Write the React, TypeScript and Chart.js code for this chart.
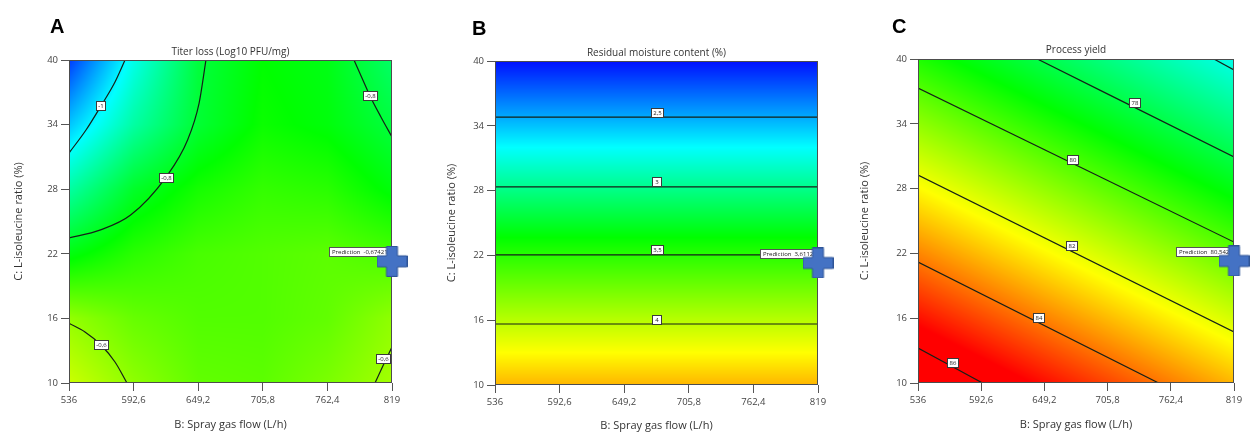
import React, { useEffect, useRef } from 'react';
import { Chart, registerables } from 'chart.js';

Chart.register(...registerables);

const FONT = "'Open Sans', 'Noto Sans', sans-serif";

// ---------- shared axes ----------
const X_TICKS = [536, 592.6, 649.2, 705.8, 762.4, 819];
const Y_TICKS = [10, 16, 22, 28, 34, 40];
const X_TITLE = 'B: Spray gas flow (L/h)';
const Y_TITLE = 'C: L-isoleucine ratio (%)';

// ---------- Panel A: titer loss ----------
const A_TITLE = 'Titer loss (Log10 PFU/mg)';
// response at grid nodes: rows follow Y_TICKS (10 → 40), columns follow X_TICKS
const A_GRID = [
  [-0.55, -0.61, -0.655, -0.66, -0.63, -0.59],
  [-0.605, -0.65, -0.67, -0.67, -0.655, -0.61],
  [-0.765, -0.71, -0.68, -0.67, -0.66, -0.68],
  [-0.91, -0.79, -0.73, -0.7, -0.71, -0.76],
  [-1.06, -0.91, -0.8, -0.74, -0.76, -0.81],
  [-1.2, -0.98, -0.81, -0.75, -0.77, -0.85],
];
// response values at blue, cyan, green, yellow, red
const A_LEVELS = [-1.26, -1.0, -0.75, -0.5, -0.25];
const A_CONTOUR_M1 = [
  { x: 536, y: 31.36 }, { x: 550.9, y: 33.5 }, { x: 564.0, y: 35.73 }, { x: 576.3, y: 37.96 }, { x: 585.1, y: 40 },
];
const A_CONTOUR_M08_LEFT = [
  { x: 536, y: 23.47 }, { x: 563, y: 24.2 }, { x: 590, y: 25.6 }, { x: 621, y: 29.13 }, { x: 640, y: 32.6 }, { x: 650, y: 36.0 }, { x: 656, y: 40 },
];
const A_CONTOUR_M08_RIGHT = [
  { x: 785.7, y: 40 }, { x: 792.7, y: 38.33 }, { x: 799.7, y: 36.66 }, { x: 809.3, y: 34.71 }, { x: 819, y: 32.85 },
];
const A_CONTOUR_M06_LEFT = [
  { x: 536, y: 15.54 }, { x: 550, y: 14.74 }, { x: 564, y: 13.53 }, { x: 576.3, y: 11.95 }, { x: 586.8, y: 10 },
];
const A_CONTOUR_M06_RIGHT = [
  { x: 804.1, y: 10 }, { x: 811.1, y: 11.6 }, { x: 819, y: 13.34 },
];
const A_LABELS = [
  { x: 564.0, y: 35.73, text: '-1' },
  { x: 621.0, y: 29.13, text: '-0,8' },
  { x: 799.7, y: 36.66, text: '-0,8' },
  { x: 564.0, y: 13.53, text: '-0,6' },
  { x: 811.1, y: 12.27, text: '-0,6' },
];
const A_PREDICTION = { x: 819, y: 21.3 };
const A_PRED_TEXT = 'Prediction  -0,674217';

// ---------- Panel B: residual moisture ----------
const B_TITLE = 'Residual moisture content (%)';
const B_GRID = [
  [4.43, 4.43, 4.43, 4.43, 4.43, 4.43],
  [3.97, 3.97, 3.97, 3.97, 3.97, 3.97],
  [3.51, 3.51, 3.51, 3.51, 3.51, 3.51],
  [3.04, 3.04, 3.04, 3.04, 3.04, 3.04],
  [2.56, 2.56, 2.56, 2.56, 2.56, 2.56],
  [2.09, 2.09, 2.09, 2.09, 2.09, 2.09],
];
const B_LEVELS = [2.05, 2.72, 3.38, 4.2, 5.0];
const B_CONTOUR_25 = [{ x: 536, y: 34.8 }, { x: 819, y: 34.8 }];
const B_CONTOUR_3 = [{ x: 536, y: 28.35 }, { x: 819, y: 28.35 }];
const B_CONTOUR_35 = [{ x: 536, y: 22.05 }, { x: 819, y: 22.05 }];
const B_CONTOUR_4 = [{ x: 536, y: 15.65 }, { x: 819, y: 15.65 }];
const B_LABELS = [
  { x: 677.7, y: 35.2, text: '2,5' },
  { x: 677.7, y: 28.8, text: '3' },
  { x: 677.7, y: 22.5, text: '3,5' },
  { x: 677.7, y: 16.1, text: '4' },
];
const B_PREDICTION = { x: 819, y: 21.3 };
const B_PRED_TEXT = 'Prediction  3,61126';

// ---------- Panel C: process yield ----------
const C_TITLE = 'Process yield';
const C_GRID = [
  [86.8, 86.08, 85.36, 84.65, 83.93, 83.21],
  [85.32, 84.6, 83.88, 83.16, 82.45, 81.73],
  [83.83, 83.11, 82.39, 81.68, 80.96, 80.24],
  [82.35, 81.63, 80.91, 80.19, 79.47, 78.76],
  [80.86, 80.14, 79.42, 78.71, 77.99, 77.27],
  [79.38, 78.66, 77.94, 77.22, 76.5, 75.79],
];
const C_LEVELS = [72.5, 75.5, 79.0, 82.3, 85.5];
const C_CONTOUR_76 = [{ x: 801, y: 40 }, { x: 819, y: 38.98 }];
const C_CONTOUR_78 = [{ x: 642.9, y: 40 }, { x: 819, y: 30.93 }];
const C_CONTOUR_80 = [{ x: 536, y: 37.31 }, { x: 819, y: 23.05 }];
const C_CONTOUR_82 = [{ x: 536, y: 29.26 }, { x: 819, y: 14.72 }];
const C_CONTOUR_84 = [{ x: 536, y: 21.2 }, { x: 751.5, y: 10 }];
const C_CONTOUR_86 = [{ x: 536, y: 13.24 }, { x: 593.8, y: 10 }];
const C_LABELS = [
  { x: 729.6, y: 35.93, text: '78' },
  { x: 674.4, y: 30.65, text: '80' },
  { x: 673.6, y: 22.69, text: '82' },
  { x: 643.8, y: 16.11, text: '84' },
  { x: 566.7, y: 11.94, text: '86' },
];
const C_PREDICTION = { x: 819, y: 21.3 };
const C_PRED_TEXT = 'Prediction  80,5425';

// ---------- panel layout (styling only) ----------
const PANELS = [
  {
    letter: 'A', title: A_TITLE, grid: A_GRID, levels: A_LEVELS,
    contours: [A_CONTOUR_M1, A_CONTOUR_M08_LEFT, A_CONTOUR_M08_RIGHT, A_CONTOUR_M06_LEFT, A_CONTOUR_M06_RIGHT],
    labels: A_LABELS, prediction: A_PREDICTION, predText: A_PRED_TEXT,
    left: 0, width: 420,
    L: { yAxisW: 69, padRight: 28, padTop: 60, xAxisH: 49, yTitleX: 19, xTitlePad: 0.5, letterDx: -19, letterDy: -27, titleDy: -8 },
  },
  {
    letter: 'B', title: B_TITLE, grid: B_GRID, levels: B_LEVELS,
    contours: [B_CONTOUR_25, B_CONTOUR_3, B_CONTOUR_35, B_CONTOUR_4],
    labels: B_LABELS, prediction: B_PREDICTION, predText: B_PRED_TEXT,
    left: 420, width: 420,
    L: { yAxisW: 75, padRight: 22, padTop: 61, xAxisH: 47, yTitleX: 32, xTitlePad: 0, letterDx: -23, letterDy: -26, titleDy: -8 },
  },
  {
    letter: 'C', title: C_TITLE, grid: C_GRID, levels: C_LEVELS,
    contours: [C_CONTOUR_76, C_CONTOUR_78, C_CONTOUR_80, C_CONTOUR_82, C_CONTOUR_84, C_CONTOUR_86],
    labels: C_LABELS, prediction: C_PREDICTION, predText: C_PRED_TEXT,
    left: 840, width: 410,
    L: { yAxisW: 78, padRight: 9, padTop: 59, xAxisH: 49, yTitleX: 25, xTitlePad: 0.5, letterDx: -26, letterDy: -26, titleDy: -9 },
  },
];

const COLORS = [
  [0, 0, 255],
  [0, 255, 255],
  [0, 255, 0],
  [255, 255, 0],
  [255, 0, 0],
];

function colorAt(v: number, levels: number[]) {
  if (v <= levels[0]) return COLORS[0];
  for (let i = 0; i < levels.length - 1; i++) {
    if (v <= levels[i + 1]) {
      const t = (v - levels[i]) / (levels[i + 1] - levels[i]);
      const a = COLORS[i], b = COLORS[i + 1];
      return [a[0] + (b[0] - a[0]) * t, a[1] + (b[1] - a[1]) * t, a[2] + (b[2] - a[2]) * t];
    }
  }
  return COLORS[COLORS.length - 1];
}

function findCell(ticks: number[], v: number) {
  let i = 0;
  while (i < ticks.length - 2 && v > ticks[i + 1]) i++;
  let t = (v - ticks[i]) / (ticks[i + 1] - ticks[i]);
  t = Math.max(0, Math.min(1, t));
  return [i, t];
}

function sampleGrid(grid: number[][], x: number, y: number) {
  const [i, tx] = findCell(X_TICKS, x);
  const [j, ty] = findCell(Y_TICKS, y);
  const v00 = grid[j][i], v10 = grid[j][i + 1], v01 = grid[j + 1][i], v11 = grid[j + 1][i + 1];
  const a = v00 + (v10 - v00) * tx;
  const b = v01 + (v11 - v01) * tx;
  return a + (b - a) * ty;
}

function makeCross() {
  const c = document.createElement('canvas');
  c.width = 31;
  c.height = 31;
  const g = c.getContext('2d')!;
  const cx = 15.5, cy = 15.5, s = 15, t = 5.5;
  g.beginPath();
  g.moveTo(cx - t, cy - s);
  g.lineTo(cx + t, cy - s);
  g.lineTo(cx + t, cy - t);
  g.lineTo(cx + s, cy - t);
  g.lineTo(cx + s, cy + t);
  g.lineTo(cx + t, cy + t);
  g.lineTo(cx + t, cy + s);
  g.lineTo(cx - t, cy + s);
  g.lineTo(cx - t, cy + t);
  g.lineTo(cx - s, cy + t);
  g.lineTo(cx - s, cy - t);
  g.lineTo(cx - t, cy - t);
  g.closePath();
  g.fillStyle = '#4472C4';
  g.fill();
  g.strokeStyle = '#2F5496';
  g.lineWidth = 1;
  g.stroke();
  return c;
}

function drawBoxLabel(ctx: CanvasRenderingContext2D, cx: number, cy: number, text: string) {
  ctx.font = `6px ${FONT}`;
  const w = Math.max(9, Math.round(ctx.measureText(text).width + 4));
  const h = 9;
  const x = Math.round(cx - w / 2) + 0.5;
  const y = Math.round(cy - h / 2) + 0.5;
  ctx.fillStyle = '#ffffff';
  ctx.fillRect(x, y, w, h);
  ctx.strokeStyle = '#3a3a3a';
  ctx.lineWidth = 1;
  ctx.strokeRect(x, y, w, h);
  ctx.fillStyle = '#222';
  ctx.textAlign = 'center';
  ctx.textBaseline = 'middle';
  ctx.fillText(text, x + w / 2, y + h / 2 + 0.5);
}

const fieldPlugin = {
  id: 'responseField',
  beforeDatasetsDraw(chart: any) {
    const p = chart.options.plugins.responseField;
    const { left, top, right, bottom } = chart.chartArea;
    const w = Math.round(right - left), h = Math.round(bottom - top);
    const off = document.createElement('canvas');
    off.width = w;
    off.height = h;
    const octx = off.getContext('2d')!;
    const img = octx.createImageData(w, h);
    const xs = chart.scales.x, ys = chart.scales.y;
    const xv: number[] = [];
    for (let px = 0; px < w; px++) xv.push(xs.getValueForPixel(left + px + 0.5));
    for (let py = 0; py < h; py++) {
      const yv = ys.getValueForPixel(top + py + 0.5);
      for (let px = 0; px < w; px++) {
        const v = sampleGrid(p.grid, xv[px], yv);
        const c = colorAt(v, p.levels);
        const k = (py * w + px) * 4;
        img.data[k] = c[0];
        img.data[k + 1] = c[1];
        img.data[k + 2] = c[2];
        img.data[k + 3] = 255;
      }
    }
    octx.putImageData(img, 0, 0);
    chart.ctx.drawImage(off, Math.round(left), Math.round(top));
  },
};

const overlayPlugin = {
  id: 'overlay',
  beforeDatasetDraw(chart: any, args: any) {
    if (args.index !== 0) return;
    const p = chart.options.plugins.overlay;
    const ctx = chart.ctx as CanvasRenderingContext2D;
    const { left, top, right, bottom } = chart.chartArea;
    const xs = chart.scales.x, ys = chart.scales.y;
    ctx.save();
    // frame
    ctx.strokeStyle = '#4d4d4d';
    ctx.lineWidth = 1;
    ctx.strokeRect(left + 0.5, top + 0.5, right - left - 1, bottom - top - 1);
    // contour labels
    p.labels.forEach((l: any) => {
      drawBoxLabel(ctx, xs.getPixelForValue(l.x), ys.getPixelForValue(l.y), l.text);
    });
    // prediction label (under the flag)
    const px = xs.getPixelForValue(p.prediction.x);
    const py = ys.getPixelForValue(p.prediction.y);
    ctx.font = `6px ${FONT}`;
    const tw = ctx.measureText(p.predText).width;
    const w = Math.round(tw + 6);
    const r = Math.round(px + 2);
    const bx = r - w + 0.5, by = Math.round(py - 14) + 0.5;
    ctx.fillStyle = '#ffffff';
    ctx.fillRect(bx, by, w, 9);
    ctx.strokeStyle = '#555';
    ctx.strokeRect(bx, by, w, 9);
    ctx.fillStyle = '#222';
    ctx.textAlign = 'left';
    ctx.textBaseline = 'middle';
    ctx.fillText(p.predText, bx + 2.5, by + 5);
    ctx.restore();
  },
  afterDraw(chart: any) {
    const p = chart.options.plugins.overlay;
    const ctx = chart.ctx as CanvasRenderingContext2D;
    const { left, top, right } = chart.chartArea;
    ctx.save();
    ctx.fillStyle = '#333';
    ctx.font = `10px ${FONT}`;
    ctx.textAlign = 'center';
    ctx.textBaseline = 'middle';
    ctx.fillText(p.title, (left + right) / 2, top + p.L.titleDy);
    ctx.fillStyle = '#000';
    ctx.font = `bold 20px 'Liberation Sans', Arial, sans-serif`;
    ctx.textAlign = 'left';
    ctx.textBaseline = 'alphabetic';
    ctx.fillText(p.letter, left + p.L.letterDx, top + p.L.letterDy);
    ctx.restore();
  },
};

const fmt = (v: number) => String(v).replace('.', ',');

function makeConfig(p: any, cross: HTMLCanvasElement) {
  const L = p.L;
  const tickFont = { family: FONT, size: 9.5 };
  const titleFont = { family: FONT, size: 11 };
  return {
    type: 'scatter',
    data: {
      datasets: [
        {
          data: [p.prediction],
          pointStyle: cross,
          pointRadius: 15,
          pointHoverRadius: 15,
          clip: false,
          showLine: false,
        },
        ...p.contours.map((pts: any) => ({
          data: pts,
          showLine: true,
          borderColor: '#152018',
          borderWidth: 1.2,
          pointRadius: 0,
          pointHoverRadius: 0,
          cubicInterpolationMode: 'monotone',
          fill: false,
        })),
      ],
    },
    options: {
      animation: false,
      responsive: false,
      maintainAspectRatio: false,
      events: [],
      layout: { padding: { left: 0, right: L.padRight, top: L.padTop, bottom: 0 } },
      plugins: {
        legend: { display: false },
        tooltip: { enabled: false },
        responseField: { grid: p.grid, levels: p.levels },
        overlay: p,
      },
      scales: {
        x: {
          type: 'linear',
          min: X_TICKS[0],
          max: X_TICKS[X_TICKS.length - 1],
          afterBuildTicks: (s: any) => {
            s.ticks = X_TICKS.map((v) => ({ value: v }));
          },
          afterFit: (s: any) => {
            s.height = L.xAxisH;
          },
          ticks: { callback: (v: number) => fmt(v), font: tickFont, color: '#444', padding: 4, autoSkip: false, maxRotation: 0 },
          grid: { drawOnChartArea: false, tickLength: 8, color: '#555' },
          border: { display: false },
          title: { display: true, text: X_TITLE, font: titleFont, color: '#333', padding: { top: 0, bottom: L.xTitlePad } },
        },
        y: {
          type: 'linear',
          min: Y_TICKS[0],
          max: Y_TICKS[Y_TICKS.length - 1],
          afterBuildTicks: (s: any) => {
            s.ticks = Y_TICKS.map((v) => ({ value: v }));
          },
          afterFit: (s: any) => {
            s.width = L.yAxisW;
          },
          ticks: { callback: (v: number) => fmt(v), font: tickFont, color: '#444', padding: 3, autoSkip: false },
          grid: { drawOnChartArea: false, tickLength: 8, color: '#555' },
          border: { display: false },
          title: { display: true, text: Y_TITLE, font: titleFont, color: '#333', padding: { top: L.yTitleX - 6.6, bottom: 0 } },
        },
      },
    },
    plugins: [fieldPlugin, overlayPlugin],
  };
}

export default function App() {
  const r0 = useRef<HTMLCanvasElement>(null);
  const r1 = useRef<HTMLCanvasElement>(null);
  const r2 = useRef<HTMLCanvasElement>(null);
  const refs = [r0, r1, r2];

  useEffect(() => {
    const cross = makeCross();
    const charts = PANELS.map((p, i) => new Chart(refs[i].current as HTMLCanvasElement, makeConfig(p, cross) as any));
    return () => charts.forEach((c) => c.destroy());
  }, []);

  return (
    <div style={{ position: 'absolute', left: 0, top: 0, width: 1250, height: 432, background: '#fff', overflow: 'hidden' }}>
      {PANELS.map((p, i) => (
        <canvas
          key={p.letter}
          ref={refs[i]}
          width={p.width}
          height={432}
          style={{ position: 'absolute', left: p.left, top: 0, width: p.width, height: 432, display: 'block' }}
        />
      ))}
    </div>
  );
}
